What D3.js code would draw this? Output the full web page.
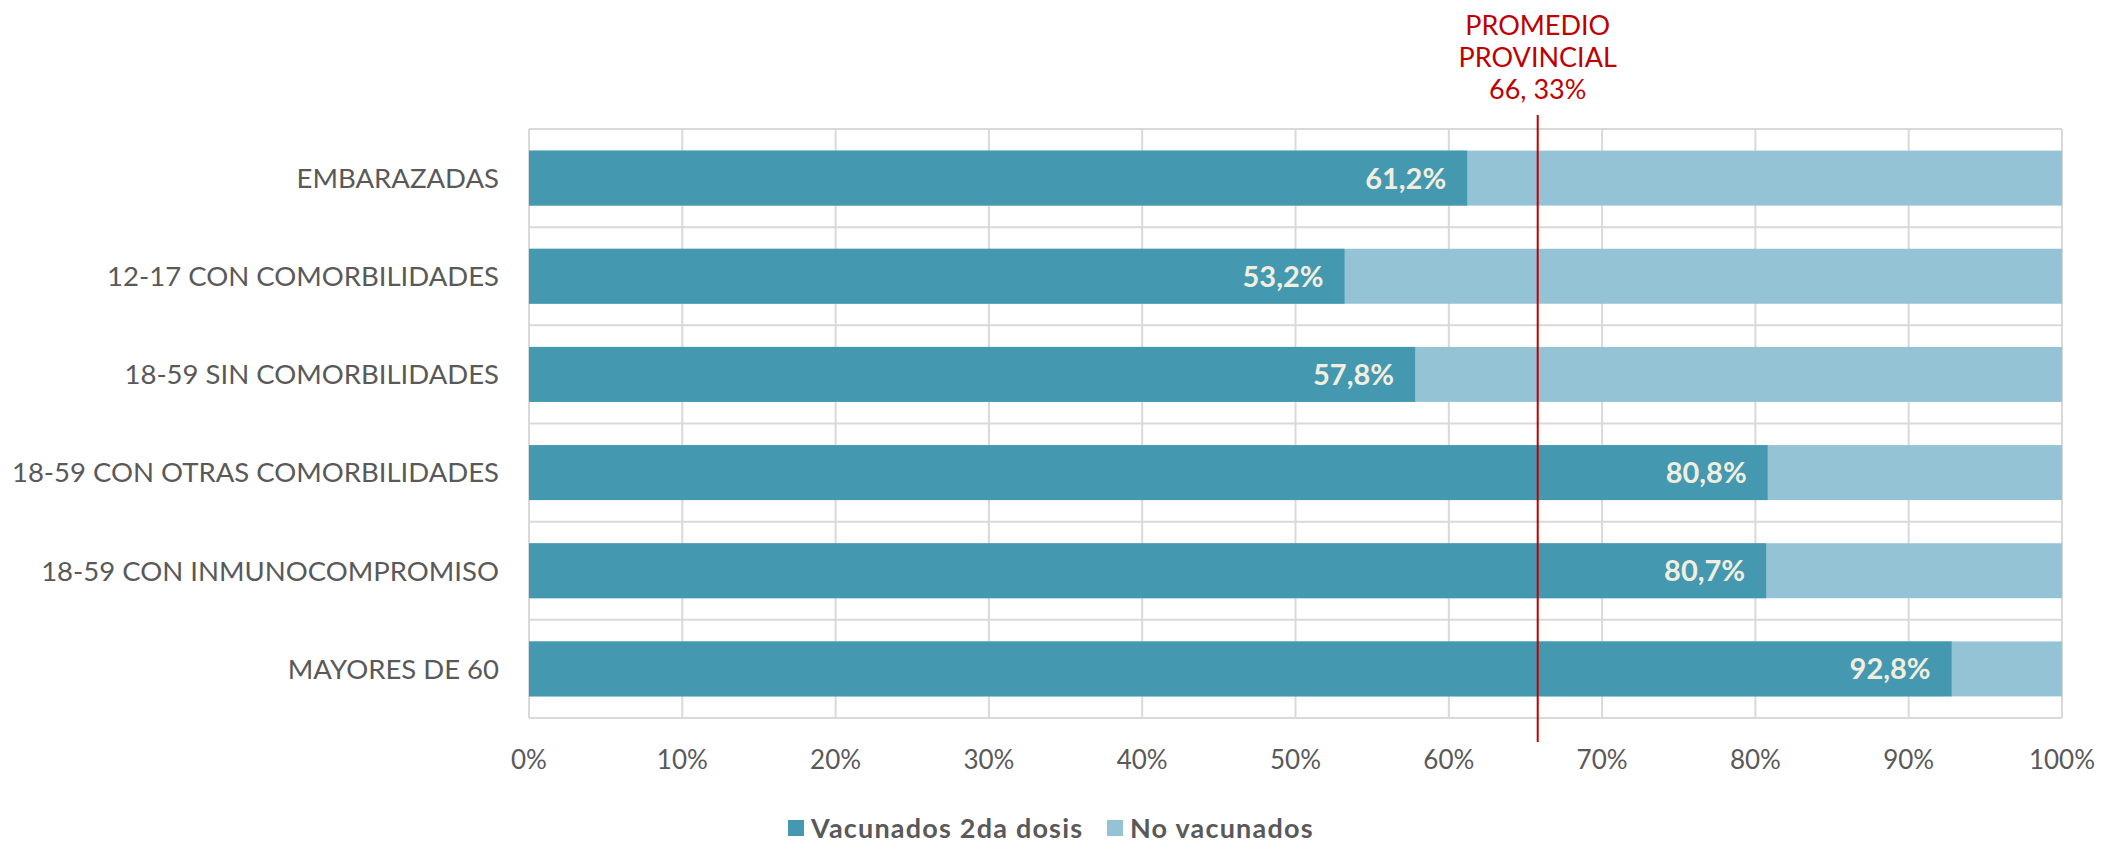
<!DOCTYPE html>
<html><head><meta charset="utf-8">
<script src="https://cdn.jsdelivr.net/npm/d3@7"></script>
<style>body{margin:0;background:#fff;} svg{display:block;}</style>
</head><body>
<svg id="chart" width="2106" height="844"></svg>
<script>
const categories = ["EMBARAZADAS","12-17 CON COMORBILIDADES","18-59 SIN COMORBILIDADES","18-59 CON OTRAS COMORBILIDADES","18-59 CON INMUNOCOMPROMISO","MAYORES DE 60"];
const vacunados = [61.2, 53.2, 57.8, 80.8, 80.7, 92.8];
const valueLabels = ["61,2%","53,2%","57,8%","80,8%","80,7%","92,8%"];
const tickValues = [0,10,20,30,40,50,60,70,80,90,100];
const tickLabels = ["0%","10%","20%","30%","40%","50%","60%","70%","80%","90%","100%"];
const seriesNames = ["Vacunados 2da dosis","No vacunados"];
const averageLinePos = 65.8;
const averageLabel = ["PROMEDIO","PROVINCIAL","66, 33%"];

const colors = {vac:"#4499b1", no:"#93c3d5", grid:"#d9d9d9", text:"#595959", red:"#c00000", val:"#f1eedf"};
const m = {left:529, right:2062, top:129, bottom:718};
const svg = d3.select("#chart");
const x = d3.scaleLinear().domain([0,100]).range([m.left, m.right]);
const y = d3.scaleBand().domain(categories).range([m.top, m.bottom]).paddingInner(0.44).paddingOuter(0.22);

const data = categories.map((c,i)=>({cat:c, v:vacunados[i], lab:valueLabels[i]}));

// gridlines
const grid = svg.append("g");
grid.selectAll("line.v").data(tickValues).join("line")
  .attr("x1",d=>x(d)).attr("x2",d=>x(d)).attr("y1",m.top).attr("y2",m.bottom)
  .attr("stroke",colors.grid).attr("stroke-width",2);
const bounds = d3.range(categories.length+1).map(i=>m.top + i*y.step());
grid.selectAll("line.h").data(bounds).join("line")
  .attr("x1",m.left).attr("x2",m.right).attr("y1",d=>d).attr("y2",d=>d)
  .attr("stroke",colors.grid).attr("stroke-width",2);

// bars
const bars = svg.append("g");
bars.selectAll("rect.no").data(data).join("rect")
  .attr("x",x(0)).attr("y",d=>y(d.cat)).attr("width",x(100)-x(0)).attr("height",y.bandwidth())
  .attr("fill",colors.no);
bars.selectAll("rect.vac").data(data).join("rect")
  .attr("x",x(0)).attr("y",d=>y(d.cat)).attr("width",d=>x(d.v)-x(0)).attr("height",y.bandwidth())
  .attr("fill",colors.vac);
bars.selectAll("text").data(data).join("text")
  .attr("x",d=>x(d.v)-21).attr("y",d=>y(d.cat)+y.bandwidth()/2).attr("dy","0.36em")
  .attr("text-anchor","end").attr("font-family","Lato, 'Open Sans', sans-serif")
  .attr("font-weight","bold").attr("font-size",29).attr("fill",colors.val).text(d=>d.lab);

// category labels
svg.append("g").selectAll("text").data(categories).join("text")
  .attr("x",499).attr("y",d=>y(d)+y.bandwidth()/2).attr("dy","0.36em")
  .attr("text-anchor","end").attr("font-family","Lato, 'Open Sans', sans-serif")
  .attr("font-size",27.5).attr("fill",colors.text).text(d=>d);

// x tick labels
svg.append("g").selectAll("text").data(tickValues).join("text")
  .attr("x",d=>x(d)).attr("y",760).attr("dy","0.36em").attr("text-anchor","middle")
  .attr("font-family","Lato, 'Open Sans', sans-serif").attr("font-size",26).attr("fill",colors.text)
  .text((d,i)=>tickLabels[i]);

// average line
svg.append("line").attr("x1",x(averageLinePos)).attr("x2",x(averageLinePos))
  .attr("y1",115).attr("y2",742).attr("stroke",colors.red).attr("stroke-width",2);
svg.append("g").selectAll("text").data(averageLabel).join("text")
  .attr("x",x(averageLinePos)).attr("y",(d,i)=>25+i*32).attr("dy","0.36em").attr("text-anchor","middle")
  .attr("font-family","Lato, sans-serif").attr("font-size",27).attr("fill",colors.red).text(d=>d);

// legend
const leg = svg.append("g");
const legX = [788, 1107];
const legCol = [colors.vac, colors.no];
seriesNames.forEach((n,i)=>{
  leg.append("rect").attr("x",legX[i]).attr("y",820).attr("width",16).attr("height",16).attr("fill",legCol[i]);
  leg.append("text").attr("x",legX[i]+23).attr("y",828).attr("dy","0.36em")
    .attr("font-family","Lato, 'Open Sans', sans-serif").attr("font-weight","bold").attr("font-size",27)
    .attr("letter-spacing",1.2)
    .attr("fill",colors.text).text(n);
});
</script>
</body></html>
